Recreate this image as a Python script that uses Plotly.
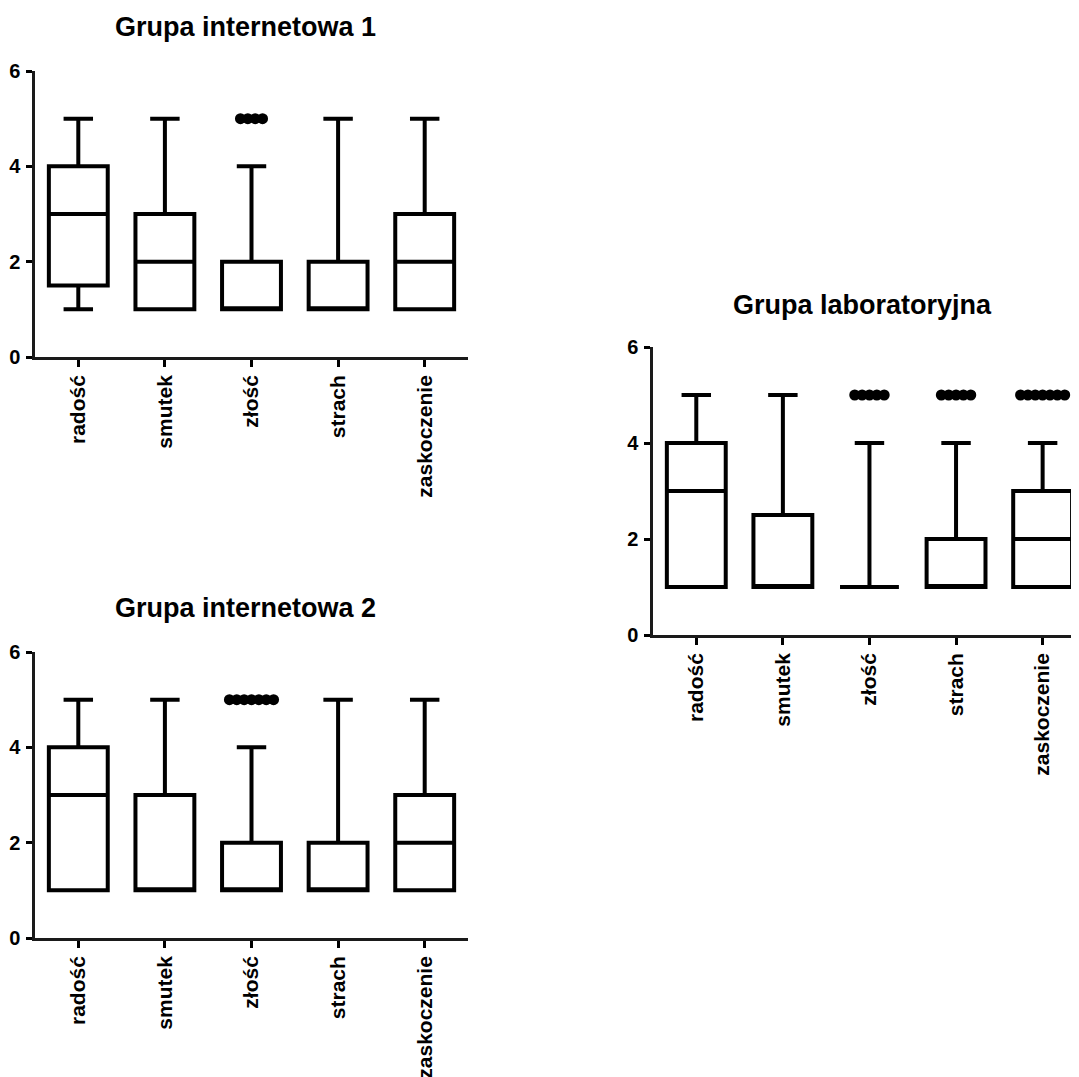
import plotly.graph_objects as go

categories = ["radość", "smutek", "złość", "strach", "zaskoczenie"]
tick_y = [0, 2, 4, 6]

# Grupa internetowa 1
g1_low = [1, 1, 1, 1, 1]
g1_q1 = [1.5, 1, 1, 1, 1]
g1_med = [3, 2, 1, 1, 2]
g1_q3 = [4, 3, 2, 2, 3]
g1_high = [5, 5, 4, 5, 5]
g1_out_n = [0, 0, 4, 0, 0]

# Grupa internetowa 2
g2_low = [1, 1, 1, 1, 1]
g2_q1 = [1, 1, 1, 1, 1]
g2_med = [3, 1, 1, 1, 2]
g2_q3 = [4, 3, 2, 2, 3]
g2_high = [5, 5, 4, 5, 5]
g2_out_n = [0, 0, 7, 0, 0]

# Grupa laboratoryjna
g3_low = [1, 1, 1, 1, 1]
g3_q1 = [1, 1, 1, 1, 1]
g3_med = [3, 1, 1, 1, 2]
g3_q3 = [4, 2.5, 1, 2, 3]
g3_high = [5, 5, 4, 4, 4]
g3_out_n = [0, 0, 5, 5, 7]
outlier_value = 5

titles = ["Grupa internetowa 1", "Grupa internetowa 2", "Grupa laboratoryjna"]

FONT = "Liberation Sans"
OFF = 8  # default page body margin
W, H = 1079 - OFF, 1077 - OFF


def px_x(v):
    return (v - OFF) / W


def px_y(v):
    return 1 - (v - OFF) / H


panels = [
    dict(data=(g1_low, g1_q1, g1_med, g1_q3, g1_high, g1_out_n), xd=[px_x(35), px_x(468)],
         yd=[px_y(357), px_y(71)], xr=[-0.5, 4.5], title_xy=(245, 27)),
    dict(data=(g2_low, g2_q1, g2_med, g2_q3, g2_high, g2_out_n), xd=[px_x(35), px_x(468)],
         yd=[px_y(938), px_y(652)], xr=[-0.5, 4.5], title_xy=(245, 608)),
    dict(data=(g3_low, g3_q1, g3_med, g3_q3, g3_high, g3_out_n), xd=[px_x(653), 1.0],
         yd=[px_y(635), px_y(347)], xr=[-0.5, 4.42], title_xy=(862, 305)),
]

fig = go.Figure()
xpos = list(range(len(categories)))

for i, p in enumerate(panels):
    low, q1, med, q3, high, out_n = p["data"]
    sfx = "" if i == 0 else str(i + 1)
    fig.add_trace(go.Box(
        x=xpos, q1=q1, median=med, q3=q3, lowerfence=low, upperfence=high,
        width=0.68, whiskerwidth=0.5, fillcolor="rgba(0,0,0,0)",
        line=dict(color="black", width=4), boxpoints=False,
        xaxis="x" + sfx, yaxis="y" + sfx, showlegend=False, hoverinfo="skip",
    ))
    ox, oy = [], []
    for k, n in enumerate(out_n):
        for j in range(n):
            ox.append(k + (j - (n - 1) / 2) * 0.085)
            oy.append(outlier_value)
    if ox:
        fig.add_trace(go.Scatter(
            x=ox, y=oy, mode="markers",
            marker=dict(color="black", size=11, line=dict(width=0)),
            xaxis="x" + sfx, yaxis="y" + sfx, showlegend=False, hoverinfo="skip",
        ))
    fig.layout["xaxis" + sfx] = dict(
        domain=p["xd"], range=p["xr"], anchor="y" + sfx, automargin=False,
        tickmode="array", tickvals=xpos, ticktext=categories, tickangle=-90,
        ticks="outside", ticklen=7, tickwidth=2.5, tickcolor="black",
        showline=True, linecolor="#1a1a1a", linewidth=2.5, showgrid=False, zeroline=False,
        tickfont=dict(family=FONT, size=21, color="black", weight="bold"),
        fixedrange=True,
    )
    fig.layout["yaxis" + sfx] = dict(
        domain=p["yd"], range=[0, 6], anchor="x" + sfx, automargin=False,
        tickmode="array", tickvals=tick_y,
        ticks="outside", ticklen=6, tickwidth=2.5, tickcolor="black",
        showline=True, linecolor="#1a1a1a", linewidth=2.5, showgrid=False, zeroline=False,
        tickfont=dict(family=FONT, size=20, color="black", weight="bold"),
        ticklabelstandoff=2, fixedrange=True,
    )
    tx, ty = p["title_xy"]
    fig.add_annotation(
        x=px_x(tx), y=px_y(ty), xref="paper", yref="paper", text=titles[i],
        showarrow=False, xanchor="center", yanchor="middle",
        font=dict(family=FONT, size=27, color="black", weight="bold"),
    )

fig.update_layout(
    width=W, height=H, margin=dict(l=0, r=0, t=0, b=0, autoexpand=False),
    paper_bgcolor="white", plot_bgcolor="white",
)

fig.write_html("out.html")
